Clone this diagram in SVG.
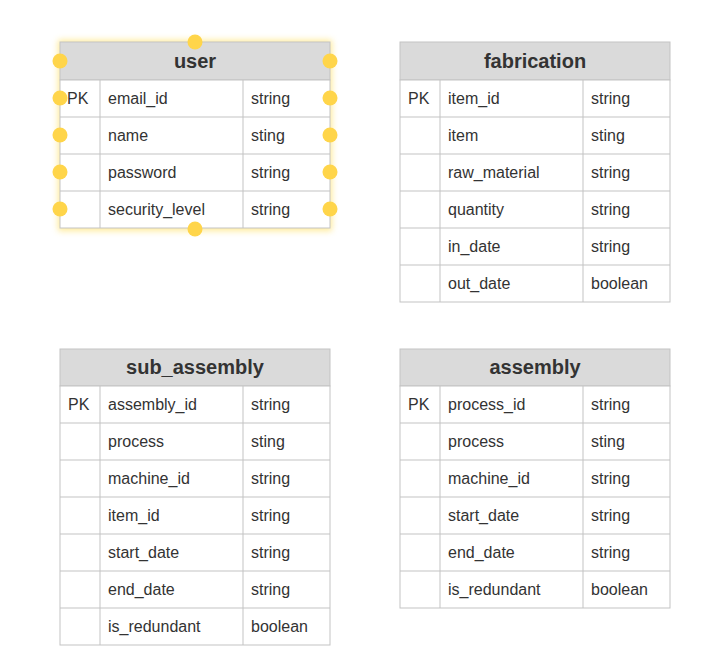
<svg xmlns="http://www.w3.org/2000/svg" width="703" height="665" viewBox="0 0 703 665">
<defs>
<style>
.hd{fill:#dadada;stroke:#c3c3c3;stroke-width:1}
.rw{fill:#ffffff;stroke:#c3c3c3;stroke-width:1}
.ln{stroke:#c3c3c3;stroke-width:1}
.ht{font-family:"Liberation Sans",Arial,sans-serif;font-size:20px;font-weight:bold;fill:#333333;text-anchor:middle}
.t{font-family:"Liberation Sans",Arial,sans-serif;font-size:16px;fill:#333333}
.h{fill:#ffd54a}
</style>
<filter id="glow" x="-20%" y="-20%" width="140%" height="140%">
<feGaussianBlur stdDeviation="3"/>
</filter>
</defs>
<rect width="703" height="665" fill="#ffffff"/>
<g id="user">
<rect x="58" y="40" width="274" height="191" fill="#ffe680" opacity="0.8" filter="url(#glow)"/>
<rect class="hd" x="60" y="42" width="270" height="38"/>
<text class="ht" x="195" y="68">user</text>
<rect class="rw" x="60" y="80" width="270" height="148"/>
<line class="ln" x1="60" y1="117" x2="330" y2="117"/>
<line class="ln" x1="60" y1="154" x2="330" y2="154"/>
<line class="ln" x1="60" y1="191" x2="330" y2="191"/>
<line class="ln" x1="100" y1="80" x2="100" y2="228"/>
<line class="ln" x1="243" y1="80" x2="243" y2="228"/>
<text class="t" x="67" y="104">PK</text>
<text class="t" x="108" y="104">email_id</text><text class="t" x="251" y="104">string</text>
<text class="t" x="108" y="141">name</text><text class="t" x="251" y="141">sting</text>
<text class="t" x="108" y="178">password</text><text class="t" x="251" y="178">string</text>
<text class="t" x="108" y="215">security_level</text><text class="t" x="251" y="215">string</text>
<circle class="h" cx="195" cy="42" r="7.5"/>
<circle class="h" cx="195" cy="229" r="7.5"/>
<circle class="h" cx="60" cy="61" r="7.5"/><circle class="h" cx="330" cy="61" r="7.5"/>
<circle class="h" cx="60" cy="98" r="7.5"/><circle class="h" cx="330" cy="98" r="7.5"/>
<circle class="h" cx="60" cy="135" r="7.5"/><circle class="h" cx="330" cy="135" r="7.5"/>
<circle class="h" cx="60" cy="172" r="7.5"/><circle class="h" cx="330" cy="172" r="7.5"/>
<circle class="h" cx="60" cy="209" r="7.5"/><circle class="h" cx="330" cy="209" r="7.5"/>
</g>
<g id="fabrication">
<rect class="hd" x="400" y="42" width="270" height="38"/>
<text class="ht" x="535" y="68">fabrication</text>
<rect class="rw" x="400" y="80" width="270" height="222"/>
<line class="ln" x1="400" y1="117" x2="670" y2="117"/>
<line class="ln" x1="400" y1="154" x2="670" y2="154"/>
<line class="ln" x1="400" y1="191" x2="670" y2="191"/>
<line class="ln" x1="400" y1="228" x2="670" y2="228"/>
<line class="ln" x1="400" y1="265" x2="670" y2="265"/>
<line class="ln" x1="440" y1="80" x2="440" y2="302"/>
<line class="ln" x1="583" y1="80" x2="583" y2="302"/>
<text class="t" x="408" y="104">PK</text>
<text class="t" x="448" y="104">item_id</text><text class="t" x="591" y="104">string</text>
<text class="t" x="448" y="141">item</text><text class="t" x="591" y="141">sting</text>
<text class="t" x="448" y="178">raw_material</text><text class="t" x="591" y="178">string</text>
<text class="t" x="448" y="215">quantity</text><text class="t" x="591" y="215">string</text>
<text class="t" x="448" y="252">in_date</text><text class="t" x="591" y="252">string</text>
<text class="t" x="448" y="289">out_date</text><text class="t" x="591" y="289">boolean</text>
</g>
<g id="sub_assembly">
<rect class="hd" x="60" y="349" width="270" height="37"/>
<text class="ht" x="195" y="374">sub_assembly</text>
<rect class="rw" x="60" y="386" width="270" height="259"/>
<line class="ln" x1="60" y1="423" x2="330" y2="423"/>
<line class="ln" x1="60" y1="460" x2="330" y2="460"/>
<line class="ln" x1="60" y1="497" x2="330" y2="497"/>
<line class="ln" x1="60" y1="534" x2="330" y2="534"/>
<line class="ln" x1="60" y1="571" x2="330" y2="571"/>
<line class="ln" x1="60" y1="608" x2="330" y2="608"/>
<line class="ln" x1="100" y1="386" x2="100" y2="645"/>
<line class="ln" x1="243" y1="386" x2="243" y2="645"/>
<text class="t" x="68" y="410">PK</text>
<text class="t" x="108" y="410">assembly_id</text><text class="t" x="251" y="410">string</text>
<text class="t" x="108" y="447">process</text><text class="t" x="251" y="447">sting</text>
<text class="t" x="108" y="484">machine_id</text><text class="t" x="251" y="484">string</text>
<text class="t" x="108" y="521">item_id</text><text class="t" x="251" y="521">string</text>
<text class="t" x="108" y="558">start_date</text><text class="t" x="251" y="558">string</text>
<text class="t" x="108" y="595">end_date</text><text class="t" x="251" y="595">string</text>
<text class="t" x="108" y="632">is_redundant</text><text class="t" x="251" y="632">boolean</text>
</g>
<g id="assembly">
<rect class="hd" x="400" y="349" width="270" height="37"/>
<text class="ht" x="535" y="374">assembly</text>
<rect class="rw" x="400" y="386" width="270" height="222"/>
<line class="ln" x1="400" y1="423" x2="670" y2="423"/>
<line class="ln" x1="400" y1="460" x2="670" y2="460"/>
<line class="ln" x1="400" y1="497" x2="670" y2="497"/>
<line class="ln" x1="400" y1="534" x2="670" y2="534"/>
<line class="ln" x1="400" y1="571" x2="670" y2="571"/>
<line class="ln" x1="440" y1="386" x2="440" y2="608"/>
<line class="ln" x1="583" y1="386" x2="583" y2="608"/>
<text class="t" x="408" y="410">PK</text>
<text class="t" x="448" y="410">process_id</text><text class="t" x="591" y="410">string</text>
<text class="t" x="448" y="447">process</text><text class="t" x="591" y="447">sting</text>
<text class="t" x="448" y="484">machine_id</text><text class="t" x="591" y="484">string</text>
<text class="t" x="448" y="521">start_date</text><text class="t" x="591" y="521">string</text>
<text class="t" x="448" y="558">end_date</text><text class="t" x="591" y="558">string</text>
<text class="t" x="448" y="595">is_redundant</text><text class="t" x="591" y="595">boolean</text>
</g>
<g id="connectors"/>
</svg>
